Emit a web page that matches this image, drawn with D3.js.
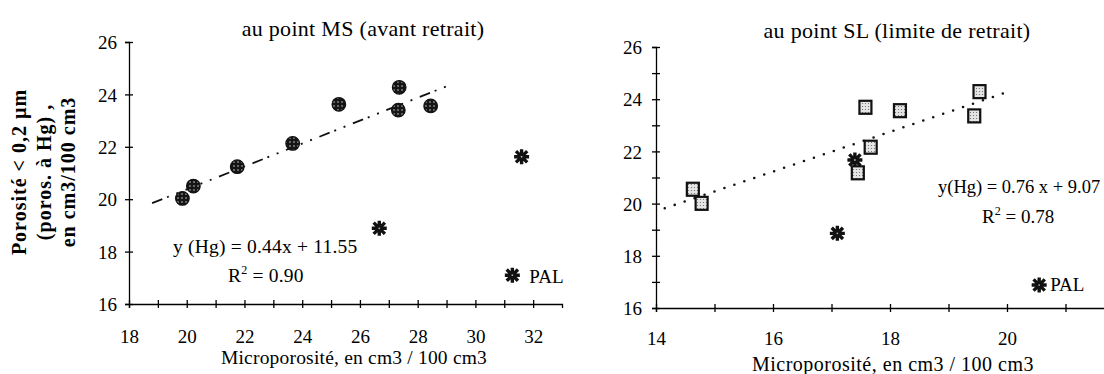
<html>
<head>
  <script src="https://d3js.org/d3.v7.min.js"></script>
  <style>
  body { margin: 0; background: #fff; }
  svg { display: block; font-family: "Liberation Serif", "Times New Roman", serif; }
  .axis path, .axis line { stroke: #000; stroke-width: 1.3; }
  .axis text { font-size: 19px; fill: #000; font-family: "Liberation Serif", serif; }
  </style>
</head>
<body>
  <svg id="plots" width="1104" height="374"></svg>
  <script>

// --- data ---
// left panel : au point MS
var msX = [19.85, 20.23, 21.75, 23.67, 25.27, 27.36, 27.33, 28.45];
var msY = [20.03, 20.50, 21.24, 22.13, 23.62, 24.27, 23.40, 23.56];
var msPalX = [26.67, 31.60];
var msPalY = [18.89, 21.62];
var msLineX = [18.8, 29.0];
var msLineY = [19.85, 24.31];
var msLegend = [31.28, 17.1];
// right panel : au point SL
var slX = [14.63, 14.78, 17.58, 18.17, 17.67, 17.45, 19.53, 19.44];
var slY = [20.55, 20.01, 23.69, 23.56, 22.16, 21.18, 24.29, 23.36];
var slPalX = [17.10, 17.40];
var slPalY = [18.86, 21.67];
var slLineX = [14.15, 20.0];
var slLineY = [19.82, 24.27];
var slLegend = [20.55, 16.88];

var yTicks = [16, 18, 20, 22, 24, 26];
var yTicksMinor = [16, 17, 18, 19, 20, 21, 22, 23, 24, 25, 26];
var msXTicks = [18, 19, 20, 21, 22, 23, 24, 25, 26, 27, 28, 29, 30, 31, 32];
var slXTicks = [14, 15, 16, 17, 18, 19, 20, 21];

var svg = d3.select("#plots");

// patterns for the speckled markers
var defs = svg.append("defs");
var pd = defs.append("pattern").attr("id", "darkdots")
  .attr("width", 4).attr("height", 4).attr("patternUnits", "userSpaceOnUse");
pd.append("rect").attr("width", 4).attr("height", 4).attr("fill", "#151515");
pd.append("circle").attr("cx", 2).attr("cy", 2).attr("r", 0.8).attr("fill", "#ccc");
var pl = defs.append("pattern").attr("id", "lightdots")
  .attr("width", 3).attr("height", 3).attr("patternUnits", "userSpaceOnUse");
pl.append("rect").attr("width", 3).attr("height", 3).attr("fill", "#e4e4e4");
pl.append("circle").attr("cx", 1.5).attr("cy", 1.5).attr("r", 0.6).attr("fill", "#666");

// star glyph (x + cross)
function starPath(r) {
  var p = d3.path();
  var a = r * 0.75;
  p.moveTo(-a, -a); p.lineTo(a, a);
  p.moveTo(a, -a); p.lineTo(-a, a);
  p.moveTo(0, -r); p.lineTo(0, r);
  p.moveTo(-r, 0); p.lineTo(r, 0);
  return p.toString();
}
function drawStar(g, cx, cy) {
  var s = g.append("g").attr("transform", "translate(" + cx + "," + cy + ")");
  s.append("path").attr("d", starPath(7.5))
    .attr("stroke", "#111").attr("stroke-width", 3.4).attr("fill", "none");
  s.append("rect").attr("x", -3.5).attr("y", -3.5).attr("width", 7).attr("height", 7).attr("fill", "#111");
  s.append("circle").attr("r", 0.9).attr("fill", "#aaa");
}

function crossTicks(g, horizontal) {
  g.selectAll(".tick line").each(function() {
    var l = d3.select(this);
    if (horizontal) l.attr("y1", -4).attr("y2", 4);
    else l.attr("x1", -4).attr("x2", 4);
  });
}

// ---------- left panel ----------
var x1 = d3.scaleLinear().domain([18, 33]).range([129, 562]);
var y1 = d3.scaleLinear().domain([16, 26]).range([304, 42]);

var left = svg.append("g");

var gx1 = left.append("g").attr("class", "axis")
  .attr("transform", "translate(0," + y1(16) + ")")
  .call(d3.axisBottom(x1).tickValues(msXTicks).tickSizeOuter(0).tickSize(4)
    .tickFormat(function(d) { return d % 2 === 0 ? d : ""; }));
crossTicks(gx1, true);
gx1.selectAll("text").attr("y", 26).attr("dy", "0.71em");

var gy1 = left.append("g").attr("class", "axis")
  .attr("transform", "translate(" + x1(18) + ",0)")
  .call(d3.axisLeft(y1).tickValues(yTicks).tickSizeOuter(0).tickSize(4));
crossTicks(gy1, false);
gy1.selectAll("text").attr("x", -12).attr("dy", "0.35em");

left.append("path")
  .datum(d3.range(msLineX.length))
  .attr("d", d3.line().x(function(i) { return x1(msLineX[i]); }).y(function(i) { return y1(msLineY[i]); }))
  .attr("fill", "none").attr("stroke", "#111").attr("stroke-width", 1.8)
  .attr("stroke-dasharray", "11,5,2,8,2,8");

left.selectAll("circle.ms").data(d3.range(msX.length)).enter().append("circle")
  .attr("class", "ms")
  .attr("cx", function(i) { return x1(msX[i]); })
  .attr("cy", function(i) { return y1(msY[i]); })
  .attr("r", 6.8)
  .attr("fill", "url(#darkdots)").attr("stroke", "#111").attr("stroke-width", 1.2);

for (var i = 0; i < msPalX.length; i++) drawStar(left, x1(msPalX[i]), y1(msPalY[i]));
drawStar(left, x1(msLegend[0]), y1(msLegend[1]));
left.append("text").attr("x", x1(msLegend[0]) + 17).attr("y", y1(msLegend[1]) + 8)
  .attr("font-size", 19).text("PAL");

left.append("text").attr("x", 363).attr("y", 36).attr("text-anchor", "middle")
  .attr("font-size", 22).attr("letter-spacing", 0.3)
  .text("au point MS (avant retrait)");

left.append("text").attr("x", 173).attr("y", 253)
  .attr("font-size", 19.5).attr("letter-spacing", 0.2)
  .text("y (Hg) = 0.44x + 11.55");
var r1 = left.append("text").attr("x", 228).attr("y", 282)
  .attr("font-size", 19.5).attr("letter-spacing", 0.2);
r1.append("tspan").text("R");
r1.append("tspan").attr("font-size", 12).attr("dy", -8).text("2");
r1.append("tspan").attr("dy", 8).text(" = 0.90");

left.append("text").attr("x", 354).attr("y", 364).attr("text-anchor", "middle")
  .attr("font-size", 19.5).attr("letter-spacing", 0.2)
  .text("Microporosité, en cm3 / 100 cm3");

var ylab = left.append("text").attr("transform", "translate(0,172) rotate(-90)")
  .attr("text-anchor", "middle").attr("font-weight", "bold")
  .attr("font-size", 20).attr("letter-spacing", 1);
ylab.append("tspan").attr("x", 0).attr("y", 26).text("Porosité < 0,2 µm");
ylab.append("tspan").attr("x", 0).attr("y", 51).text("(poros. à Hg) ,");
ylab.append("tspan").attr("x", 0).attr("y", 75).text("en cm3/100 cm3");

// ---------- right panel ----------
var x2 = d3.scaleLinear().domain([14, 22]).range([656, 1124]);
var y2 = d3.scaleLinear().domain([16, 26]).range([308, 47]);

var right = svg.append("g");

var gx2 = right.append("g").attr("class", "axis")
  .attr("transform", "translate(0," + y2(16) + ")")
  .call(d3.axisBottom(x2).tickValues(slXTicks).tickSizeOuter(0).tickSize(4)
    .tickFormat(function(d) { return d % 2 === 0 ? d : ""; }));
crossTicks(gx2, true);
gx2.selectAll("text").attr("y", 24).attr("dy", "0.71em");

var gy2 = right.append("g").attr("class", "axis")
  .attr("transform", "translate(" + x2(14) + ",0)")
  .call(d3.axisLeft(y2).tickValues(yTicksMinor).tickSizeOuter(0).tickSize(4)
    .tickFormat(function(d) { return d % 2 === 0 ? d : ""; }));
crossTicks(gy2, false);
gy2.selectAll("text").attr("x", -14).attr("dy", "0.35em");

right.append("path")
  .datum(d3.range(slLineX.length))
  .attr("d", d3.line().x(function(i) { return x2(slLineX[i]); }).y(function(i) { return y2(slLineY[i]); }))
  .attr("fill", "none").attr("stroke", "#111").attr("stroke-width", 2.6)
  .attr("stroke-linecap", "round").attr("stroke-dasharray", "0,10.5");

for (var j = 0; j < slPalX.length; j++) drawStar(right, x2(slPalX[j]), y2(slPalY[j]));

right.selectAll("rect.sl").data(d3.range(slX.length)).enter().append("rect")
  .attr("class", "sl")
  .attr("x", function(i) { return x2(slX[i]) - 6; })
  .attr("y", function(i) { return y2(slY[i]) - 6.5; })
  .attr("width", 12).attr("height", 13)
  .attr("fill", "url(#lightdots)").attr("stroke", "#111").attr("stroke-width", 2.2);

drawStar(right, x2(slLegend[0]), y2(slLegend[1]));
right.append("text").attr("x", x2(slLegend[0]) + 11).attr("y", y2(slLegend[1]) + 6)
  .attr("font-size", 19).text("PAL");

right.append("text").attr("x", 897).attr("y", 38).attr("text-anchor", "middle")
  .attr("font-size", 22).attr("letter-spacing", 0.3)
  .text("au point SL (limite de retrait)");

right.append("text").attr("x", 938).attr("y", 193)
  .attr("font-size", 18.5)
  .text("y(Hg) = 0.76 x + 9.07");
var r2 = right.append("text").attr("x", 982).attr("y", 223)
  .attr("font-size", 19);
r2.append("tspan").text("R");
r2.append("tspan").attr("font-size", 12).attr("dy", -8).text("2");
r2.append("tspan").attr("dy", 8).text(" = 0.78");

right.append("text").attr("x", 893).attr("y", 371).attr("text-anchor", "middle")
  .attr("font-size", 20).attr("letter-spacing", 0.5)
  .text("Microporosité, en cm3 / 100 cm3");

  </script>
</body>
</html>
